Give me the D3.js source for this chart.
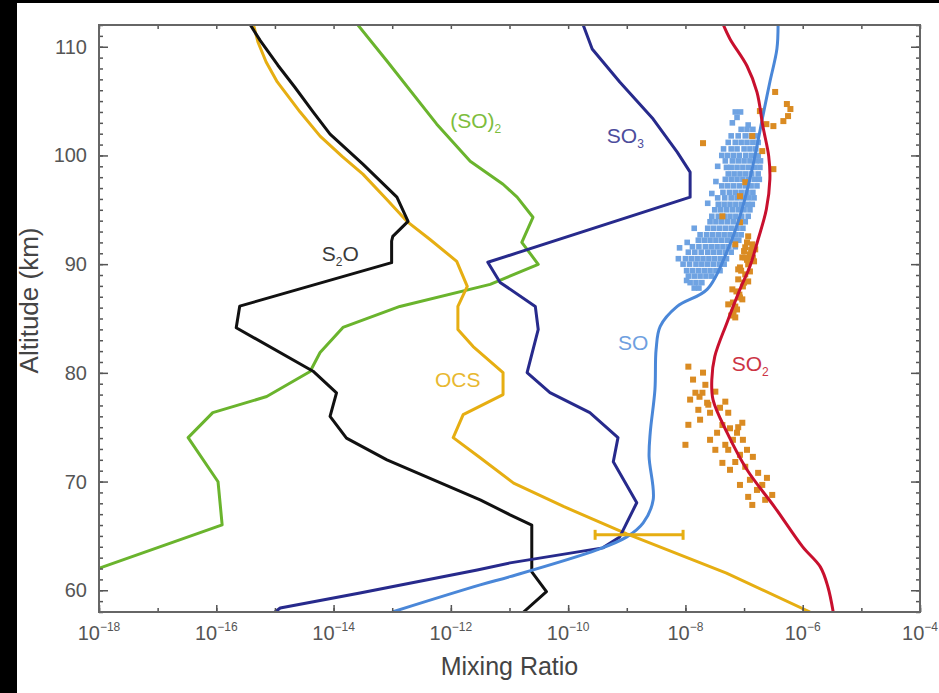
<!DOCTYPE html>
<html>
<head>
<meta charset="utf-8">
<script src="https://cdn.jsdelivr.net/npm/d3@7"></script>
<style>
  html, body { margin: 0; padding: 0; background: #000; }
  text { font-family: "Liberation Sans", Arial, Helvetica, sans-serif; }
</style>
</head>
<body>
<svg id="chart" width="939" height="693"></svg>
<script>
// profiles: [log10 mixing ratio, altitude km]
var s2o = [[-15.43,112.1],[-15.25,110.56],[-14.95,108.3],[-14.66,106.27],[-14.35,104.0],[-14.06,101.96],[-13.50,99.2],
  [-12.92,96.16],[-12.73,93.94],[-12.99,92.56],[-13.01,92.13],[-13.01,90.14],[-15.60,86.14],[-15.66,84.15],[-14.35,80.15],
  [-13.95,78.16],[-14.06,76.0],[-13.78,74.0],[-13.09,72.0],[-11.50,68.32],[-10.99,66.94],[-10.62,66.0],[-10.62,61.7],
  [-10.37,59.87],[-10.76,58]];

var ocs = [[-15.37,112.1],[-15.29,110.44],[-15.15,108.6],[-14.96,106.76],[-14.57,103.99],[-14.23,101.78],[-13.85,99.9],
  [-13.50,98.28],[-13.10,96.0],[-12.75,93.94],[-12.36,92.29],[-11.90,90.26],[-11.72,87.95],[-11.88,86.11],[-11.88,83.99],
  [-11.62,82.42],[-11.11,80.03],[-11.11,78.0],[-11.79,76.16],[-11.96,74.04],[-11.50,72.19],[-10.93,69.86],[-10.08,67.71],
  [-9.0,65.19],[-7.30,61.57],[-5.875,58]];

var so2dimer = [[-13.60,112.1],[-13.09,108.69],[-12.24,102.88],[-11.67,99.47],[-11.11,97.35],[-10.87,96.16],[-10.60,94.31],
  [-10.79,92.01],[-10.51,89.98],[-11.33,88.14],[-12.87,86.11],[-13.84,84.18],[-14.23,81.87],[-14.40,80.12],[-15.14,77.82],
  [-16.06,76.34],[-16.48,74.04],[-15.97,69.98],[-15.90,66.02],[-17.98,62.06],[-20.1,58]];

var so3 = [[-9.75,112.1],[-9.59,109.8],[-9.12,106.76],[-8.55,103.35],[-8.14,100.3],[-7.92,98.46],[-7.92,96.16],[-11.37,90.17],
  [-11.16,88.32],[-10.56,86.11],[-10.51,83.99],[-10.70,80.03],[-10.31,78.18],[-9.63,76.34],[-9.15,74.04],[-9.23,71.82],
  [-8.83,68.05],[-9.12,64.91],[-9.41,63.90],[-10.99,62.52],[-11.55,61.87],[-13.55,59.75],[-14.91,58.37],[-15.0,58]];

var so = [[-6.42,112.1],[-6.44,109.8],[-6.56,106.76],[-6.68,103.62],[-6.78,100.86],[-6.93,97.17],[-7.07,94.41],[-7.29,91.18],
  [-7.63,87.68],[-8.14,86.11],[-8.43,84.27],[-8.50,82.15],[-8.52,78.46],[-8.60,74.5],[-8.62,72.3],[-8.55,68.32],[-8.72,66.2],
  [-9.00,64.91],[-9.51,63.71],[-10.99,61.25],[-11.50,60.49],[-13.0,58]];

var so2 = [[-7.36,112.1],[-7.24,110.72],[-6.95,108.23],[-6.78,105.83],[-6.68,102.7],[-6.58,99.94],[-6.56,97.82],[-6.62,95.05],
  [-6.76,92.29],[-6.90,89.8],[-7.07,87.68],[-7.29,84.64],[-7.50,81.5],[-7.55,79.38],[-7.53,77.54],[-7.29,74.5],[-6.95,71.09],
  [-6.47,67.59],[-6.0,63.99],[-5.70,62.15],[-5.57,60.3],[-5.48,58]];

// SO observations: [altitude km, [log10 mixing ratios]]
var soObsRows = [
  [104.0,[-7.15,-7.06]], [103.5,[-7.12]], [103.0,[-7.20]], [102.8,[-6.93]], [102.4,[-7.05,-6.95,-6.85]],
  [101.8,[-7.22,-7.10,-6.98,-6.88,-6.78]], [101.2,[-7.27,-7.15,-7.05,-6.95,-6.85,-6.76]],
  [100.6,[-7.35,-7.22,-7.12,-7.00,-6.90,-6.80]], [100.0,[-7.38,-7.28,-7.18,-7.08,-6.97,-6.87,-6.76]],
  [99.5,[-7.32,-7.20,-7.10,-7.00,-6.90,-6.80,-6.72]], [99.0,[-7.45]], [98.9,[-7.30,-7.22,-7.12,-7.02,-6.92,-6.82,-6.73]],
  [98.3,[-7.27,-7.17,-7.07,-6.97,-6.87,-6.76]], [97.8,[-7.32,-7.22,-7.12,-7.02,-6.92,-6.82,-6.74]], [97.6,[-7.48]],
  [97.2,[-7.38,-7.28,-7.18,-7.08,-6.98,-6.88,-6.78]], [96.6,[-7.36,-7.25,-7.15,-7.05,-6.95,-6.85]], [96.5,[-7.55]],
  [96.1,[-7.45,-7.33,-7.22,-7.12,-7.02,-6.92,-6.83]], [95.6,[-7.62]], [95.5,[-7.44,-7.34,-7.24,-7.14,-7.04,-6.94,-6.86]],
  [95.0,[-7.50,-7.40,-7.30,-7.20,-7.10,-7.00,-6.90]], [94.4,[-7.55,-7.44,-7.34,-7.24,-7.14,-7.04,-6.93]],
  [93.9,[-7.58,-7.48,-7.38,-7.28,-7.18,-7.08,-6.98]], [93.3,[-7.85,-7.62,-7.52,-7.42,-7.32,-7.22,-7.12,-7.02]],
  [92.7,[-7.75,-7.64,-7.54,-7.44,-7.34,-7.24,-7.14,-7.05]], [92.2,[-7.78,-7.68,-7.58,-7.48,-7.38,-7.28,-7.18,-7.09]],
  [92.0,[-7.97]], [91.6,[-7.88,-7.77,-7.66,-7.56,-7.46,-7.36,-7.26,-7.15]], [91.5,[-8.10]],
  [91.1,[-7.95,-7.84,-7.73,-7.62,-7.52,-7.42,-7.32,-7.22]], [90.5,[-8.12,-8.00,-7.90,-7.80,-7.70,-7.60,-7.50,-7.40,-7.30]],
  [90.0,[-8.04,-7.93,-7.82,-7.72,-7.62,-7.52,-7.42,-7.34]], [89.4,[-7.98,-7.88,-7.78,-7.68,-7.58,-7.48,-7.41]],
  [88.9,[-7.95,-7.85,-7.75,-7.65,-7.55]], [88.5,[-7.98]], [88.3,[-7.92,-7.82,-7.72]], [87.8,[-7.85,-7.77]]
];

// SO2 observations: [log10 mixing ratio, altitude km]
var so2Obs = [[-6.47,105.84],[-6.27,104.73],[-6.21,104.27],[-6.25,103.62],[-6.33,103.16],[-6.50,102.7],[-6.62,102.88],
  [-6.73,104.08],[-6.86,101.78],[-6.69,100.4],[-6.50,98.74],[-6.98,97.54],[-7.07,96.25],[-7.37,94.4],[-7.07,93.85],[-7.70,101.13],
  [-6.93,92.56],[-6.86,91.82],[-6.98,91.55],[-6.90,90.9],[-7.03,90.62],[-6.93,89.98],[-7.07,89.7],[-6.98,89.06],[-7.10,88.6],
  [-7.02,87.95],[-7.13,87.49],[-7.07,86.93],[-7.19,86.47],[-7.12,85.83],[-7.22,85.27],[-6.83,90.26],[-6.90,89.33],
  [-6.95,92.0],[-7.00,91.2],[-6.95,90.4],[-7.05,89.4],[-7.00,88.3],[-7.08,87.2],[-7.15,86.1],[-7.18,85.6],[-6.88,91.3],[-6.85,90.6],
  [-7.15,91.82],[-6.98,90.62],[-7.10,89.52],[-7.20,87.68],[-7.27,86.3],[-7.15,85.1],[-6.81,91.36],[-6.93,88.41],[-7.03,86.76],
  [-7.95,80.57],[-7.70,80.02],[-7.83,78.17],[-7.71,78.17],[-7.63,77.25],[-7.32,77.35],[-7.58,76.33],[-7.27,76.33],[-7.95,75.22],
  [-7.03,75.41],[-7.46,74.49],[-7.12,74.49],[-7.02,73.84],[-8.00,73.38],[-7.49,72.92],[-7.27,72.92],[-6.95,72.92],[-6.85,72.27],
  [-7.37,71.72],[-7.24,71.08],[-6.76,70.8],[-6.69,69.69],[-6.52,68.77],[-6.93,68.59],[-6.86,67.85],[-7.61,77.07],[-7.19,73.84],
  [-6.61,70.34],[-7.10,75.0],[-7.76,77.8],
  [-7.87,79.38],[-7.66,78.9],[-7.49,78.27],[-7.41,76.79],[-7.75,75.69],[-7.37,75.2],[-7.24,74.9],[-7.58,73.84],[-7.32,73.38],
  [-7.07,72.46],[-7.15,71.8],[-6.98,71.36],[-6.90,70.16],[-7.07,69.69],[-6.78,69.23],[-6.64,68.32],[-7.92,77.54],[-7.78,76.6]];

// OCS measurement: [altitude, low, value, high] (log10)
var ocsObs = [[65.1, -9.54, -9.0, -8.04]];

// labels: [name, subscript, tail, log10 x, altitude of baseline, colour]
var labels = [["S","2","O",-14.20,90.26,"#3a3a3a"],["(SO)","2","",-12.01,102.52,"#7dbd3c"],["SO","3","",-9.34,101.13,"#4c4c9c"],
  ["SO","","",-9.15,82.06,"#6f9fe0"],["OCS","","",-12.27,78.74,"#e8b830"],["SO","2","",-7.21,80.21,"#cc3344"]];

var xTickExps = [-18,-17,-16,-15,-14,-13,-12,-11,-10,-9,-8,-7,-6,-5,-4];
var xLabelExps = [-18,-16,-14,-12,-10,-8,-6,-4];
var yMinor = d3.range(58, 113);
var yMajor = [60,70,80,90,100,110];

var margin = {top: 25, right: 19, bottom: 81, left: 99},
    W = 939, H = 693,
    plotW = W - margin.left - margin.right,
    plotH = H - margin.top - margin.bottom;

var svg = d3.select("#chart");
svg.append("rect").attr("width", W).attr("height", H).attr("fill", "#000");
svg.append("rect").attr("x", 17).attr("y", 3).attr("width", W - 17).attr("height", H - 3).attr("fill", "#fff");

var x = d3.scaleLog().domain([1e-18, 1e-4]).range([0, plotW]);
var y = d3.scaleLinear().domain([58, 112]).range([plotH, 0]);
var px = function(e) { return x(Math.pow(10, e)); };

var g = svg.append("g").attr("transform", "translate(" + margin.left + "," + margin.top + ")");

g.append("defs").append("clipPath").attr("id", "clip")
  .append("rect").attr("width", plotW).attr("height", plotH);

var plot = g.append("g").attr("clip-path", "url(#clip)");

// observations
var soObs = [];
soObsRows.forEach(function(r) { r[1].forEach(function(e) { soObs.push([e, r[0]]); }); });

plot.selectAll(".sodot").data(soObs).enter().append("rect")
  .attr("x", function(d) { return px(d[0]) - 2.8; })
  .attr("y", function(d) { return y(d[1]) - 2.8; })
  .attr("width", 5.6).attr("height", 5.6)
  .attr("fill", "#6fa3e2");

plot.selectAll(".so2dot").data(so2Obs).enter().append("rect")
  .attr("x", function(d) { return px(d[0]) - 3; })
  .attr("y", function(d) { return y(d[1]) - 3; })
  .attr("width", 6).attr("height", 6)
  .attr("fill", "#da8b22");

// model profiles: kinked ones straight, SO and SO2 smooth
var line = d3.line().x(function(d) { return px(d[0]); }).y(function(d) { return y(d[1]); });
var smooth = d3.line().curve(d3.curveCatmullRom).x(function(d) { return px(d[0]); }).y(function(d) { return y(d[1]); });

var profiles = [
  {data: so2dimer, color: "#6ab42d", gen: line},
  {data: ocs, color: "#e6ae12", gen: line},
  {data: s2o, color: "#111", gen: line},
  {data: so3, color: "#272a8c", gen: line},
  {data: so, color: "#4a87d8", gen: smooth},
  {data: so2, color: "#c8102e", gen: smooth}
];
profiles.forEach(function(p) {
  plot.append("path").datum(p.data)
    .attr("d", p.gen)
    .attr("fill", "none")
    .attr("stroke", p.color)
    .attr("stroke-width", 3)
    .attr("stroke-linejoin", "round");
});

// OCS error bar
ocsObs.forEach(function(d) {
  var yy = y(d[0]);
  plot.append("line").attr("x1", px(d[1])).attr("x2", px(d[3])).attr("y1", yy).attr("y2", yy)
    .attr("stroke", "#e6ae12").attr("stroke-width", 3);
  [d[1], d[3]].forEach(function(e) {
    plot.append("line").attr("x1", px(e)).attr("x2", px(e)).attr("y1", yy - 5).attr("y2", yy + 5)
      .attr("stroke", "#e6ae12").attr("stroke-width", 3);
  });
});

// species labels
labels.forEach(function(l) {
  var t = g.append("text").attr("x", px(l[3])).attr("y", y(l[4]))
    .attr("fill", l[5]).style("font-size", "21px");
  t.append("tspan").text(l[0]);
  if (l[1]) t.append("tspan").text(l[1]).style("font-size", "12px").attr("dy", 5);
  if (l[2]) t.append("tspan").text(l[2]).attr("dy", -5);
});

// axes
function styleAxis(sel) {
  sel.select(".domain").remove();
  sel.selectAll("line").attr("stroke", "#555").attr("stroke-width", 1.5);
}
g.append("g").attr("transform", "translate(0," + plotH + ")")
  .call(d3.axisBottom(x).tickValues(xTickExps.map(function(e) { return Math.pow(10, e); })).tickSize(-4).tickFormat(""))
  .call(styleAxis);
g.append("g").attr("transform", "translate(0," + plotH + ")")
  .call(d3.axisBottom(x).tickValues(xLabelExps.map(function(e) { return Math.pow(10, e); })).tickSize(-7).tickFormat(""))
  .call(styleAxis);
g.append("g")
  .call(d3.axisTop(x).tickValues(xTickExps.map(function(e) { return Math.pow(10, e); })).tickSize(-4).tickFormat(""))
  .call(styleAxis);
g.append("g").call(d3.axisLeft(y).tickValues(yMinor).tickSize(-4).tickFormat("")).call(styleAxis);
g.append("g").call(d3.axisLeft(y).tickValues(yMajor).tickSize(-9).tickFormat("")).call(styleAxis);
g.append("g").attr("transform", "translate(" + plotW + ",0)")
  .call(d3.axisRight(y).tickValues(yMinor).tickSize(-4).tickFormat("")).call(styleAxis);
g.append("g").attr("transform", "translate(" + plotW + ",0)")
  .call(d3.axisRight(y).tickValues(yMajor).tickSize(-9).tickFormat("")).call(styleAxis);

g.append("rect").attr("width", plotW).attr("height", plotH)
  .attr("fill", "none").attr("stroke", "#666").attr("stroke-width", 2);

// tick labels
xLabelExps.forEach(function(e) {
  var t = g.append("text").attr("x", px(e)).attr("y", plotH + 28)
    .attr("text-anchor", "middle").attr("fill", "#555").style("font-size", "20px");
  t.append("tspan").text("10");
  t.append("tspan").text("\u2212" + Math.abs(e)).style("font-size", "12px").attr("dy", -9);
});
yMajor.forEach(function(v) {
  g.append("text").attr("x", -12).attr("y", y(v)).attr("dy", "0.35em")
    .attr("text-anchor", "end").attr("fill", "#555").style("font-size", "20px").text(v);
});

// axis titles
g.append("text").attr("x", plotW / 2).attr("y", plotH + 63)
  .attr("text-anchor", "middle").attr("fill", "#444").style("font-size", "25px").text("Mixing Ratio");
g.append("text").attr("transform", "translate(-61," + (plotH / 2 - 18) + ") rotate(-90)")
  .attr("text-anchor", "middle").attr("fill", "#444").style("font-size", "26px").text("Altitude (km)");
</script>
</body>
</html>
